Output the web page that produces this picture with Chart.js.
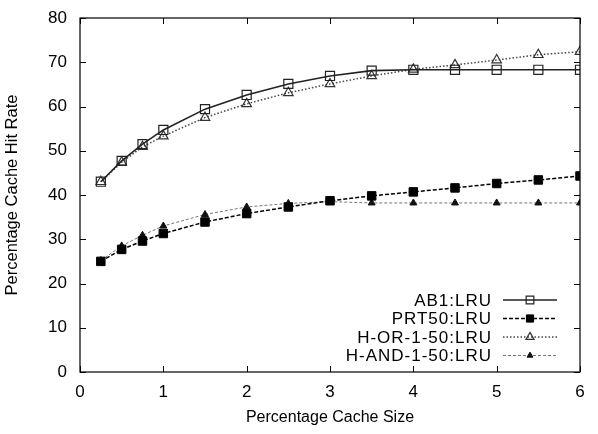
<!DOCTYPE html>
<html>
<head>
<meta charset="utf-8">
<script src="https://cdn.jsdelivr.net/npm/chart.js@4/dist/chart.umd.min.js"></script>
<style>
  html, body { margin: 0; padding: 0; background: #fff; }
  #wrap { width: 598px; height: 434px; position: relative; }
</style>
</head>
<body>
<div id="wrap"><canvas id="c" width="598" height="434"></canvas></div>
<script>
const cacheSize = [0.25, 0.5, 0.75, 1, 1.5, 2, 2.5, 3, 3.5, 4, 4.5, 5, 5.5, 6];
const ab1Lru    = [43.0, 47.7, 51.5, 54.7, 59.4, 62.6, 65.1, 66.9, 68.1, 68.3, 68.3, 68.3, 68.3, 68.3];
const prt50Lru  = [25.0, 27.7, 29.6, 31.3, 33.9, 35.8, 37.3, 38.7, 39.8, 40.7, 41.6, 42.6, 43.4, 44.3];
const hOrLru    = [43.0, 47.4, 50.9, 53.3, 57.5, 60.6, 63.1, 65.1, 66.9, 68.4, 69.4, 70.5, 71.7, 72.4];
const hAndLru   = [25.2, 28.5, 30.9, 33.0, 35.6, 37.3, 38.1, 38.5, 38.2, 38.2, 38.2, 38.2, 38.2, 38.2];
const seriesNames = ['AB1:LRU', 'PRT50:LRU', 'H-OR-1-50:LRU', 'H-AND-1-50:LRU'];
const xTicks = [0, 1, 2, 3, 4, 5, 6];
const yTicks = [0, 10, 20, 30, 40, 50, 60, 70, 80];

const FONT = '"Liberation Sans", Arial, Helvetica, sans-serif';
const pts = arr => cacheSize.map((x, i) => ({ x: x, y: arr[i] }));

const datasets = [
  { label: seriesNames[0], data: pts(ab1Lru), borderColor: '#222', borderWidth: 1.6,
    pointStyle: 'rect', pointRadius: 6.4, pointBorderColor: '#222', pointBorderWidth: 1.2,
    pointBackgroundColor: 'rgba(0,0,0,0)' },
  { label: seriesNames[1], data: pts(prt50Lru), borderColor: '#000', borderWidth: 1.5, borderDash: [4, 2],
    pointStyle: 'rect', pointRadius: 6, pointBorderColor: '#000', pointBorderWidth: 1,
    pointBackgroundColor: '#000' },
  { label: seriesNames[2], data: pts(hOrLru), borderColor: '#444', borderWidth: 1.5, borderDash: [1.5, 2],
    pointStyle: 'triangle', pointRadius: 5.5, pointBorderColor: '#333', pointBorderWidth: 1.2,
    pointBackgroundColor: 'rgba(0,0,0,0)' },
  { label: seriesNames[3], data: pts(hAndLru), borderColor: '#777', borderWidth: 1, borderDash: [3, 2],
    pointStyle: 'triangle', pointRadius: 4, pointBorderColor: '#111', pointBorderWidth: 1,
    pointBackgroundColor: '#111' }
];
datasets.forEach(d => { d.fill = false; d.tension = 0; d.pointHoverRadius = d.pointRadius; });

const frame = {
  id: 'frame',
  afterDatasetsDraw(chart) {
    const ctx = chart.ctx, a = chart.chartArea;
    const xs = chart.scales.x, ys = chart.scales.y;
    ctx.save();
    ctx.strokeStyle = '#000';
    ctx.lineWidth = 1.2;
    ctx.setLineDash([]);
    ctx.strokeRect(a.left, a.top, a.right - a.left, a.bottom - a.top);
    ctx.lineWidth = 1;
    const tl = 6;
    ctx.beginPath();
    xs.ticks.forEach(t => {
      const px = Math.round(xs.getPixelForValue(t.value)) + 0.5;
      ctx.moveTo(px, a.bottom); ctx.lineTo(px, a.bottom - tl);
      ctx.moveTo(px, a.top); ctx.lineTo(px, a.top + tl);
    });
    ys.ticks.forEach(t => {
      const py = Math.round(ys.getPixelForValue(t.value)) + 0.5;
      ctx.moveTo(a.left, py); ctx.lineTo(a.left + tl, py);
      ctx.moveTo(a.right, py); ctx.lineTo(a.right - tl, py);
    });
    ctx.stroke();
    ctx.restore();
  }
};

const legendInside = {
  id: 'legendInside',
  afterDraw(chart) {
    const ctx = chart.ctx;
    const textRight = 492, lineL = 503, lineR = 557, mid = 530;
    const rows = [300, 318.5, 337, 355.5];
    ctx.save();
    chart.data.datasets.forEach((ds, i) => {
      const y = rows[i];
      ctx.font = '17px ' + FONT;
      try { ctx.letterSpacing = '1px'; } catch (e) {}
      ctx.fillStyle = '#000';
      ctx.textAlign = 'right';
      ctx.textBaseline = 'middle';
      ctx.fillText(ds.label, textRight, y + 1);
      ctx.strokeStyle = ds.borderColor;
      ctx.lineWidth = ds.borderWidth;
      ctx.setLineDash(ds.borderDash || []);
      ctx.beginPath(); ctx.moveTo(lineL, y); ctx.lineTo(lineR, y); ctx.stroke();
      ctx.setLineDash([]);
      ctx.fillStyle = ds.pointBackgroundColor;
      ctx.strokeStyle = ds.pointBorderColor;
      ctx.lineWidth = ds.pointBorderWidth;
      Chart.helpers.drawPoint(ctx, {
        pointStyle: ds.pointStyle, radius: ds.pointRadius * 0.85, borderWidth: ds.pointBorderWidth, rotation: 0
      }, mid, y);
    });
    ctx.restore();
  }
};

new Chart(document.getElementById('c'), {
  type: 'line',
  data: { datasets: datasets },
  plugins: [frame, legendInside],
  options: {
    responsive: false,
    animation: false,
    events: [],
    layout: { padding: { top: 18, right: 18, left: 0, bottom: 0 } },
    plugins: { legend: { display: false }, tooltip: { enabled: false } },
    scales: {
      x: {
        type: 'linear', min: 0, max: 6,
        afterBuildTicks: s => { s.ticks = xTicks.map(v => ({ value: v })); },
        afterFit: s => { s.height = 62; s.paddingLeft = 0; s.paddingRight = 0; },
        grid: { display: false, drawTicks: false },
        border: { display: false },
        ticks: { color: '#000', font: { family: FONT, size: 17 }, padding: 10, maxRotation: 0 },
        title: { display: true, text: 'Percentage Cache Size', color: '#000',
                 font: { family: FONT, size: 16 }, padding: { top: 0, bottom: 7 } }
      },
      y: {
        type: 'linear', min: 0, max: 80,
        afterBuildTicks: s => { s.ticks = yTicks.map(v => ({ value: v })); },
        afterFit: s => { s.width = 80; s.paddingTop = 0; s.paddingBottom = 0; },
        grid: { display: false, drawTicks: false },
        border: { display: false },
        ticks: { color: '#000', font: { family: FONT, size: 17 }, padding: 13 },
        title: { display: true, text: 'Percentage Cache Hit Rate', color: '#000',
                 font: { family: FONT, size: 16.5 }, padding: { top: 3, bottom: 0 } }
      }
    }
  }
});
</script>
</body>
</html>
